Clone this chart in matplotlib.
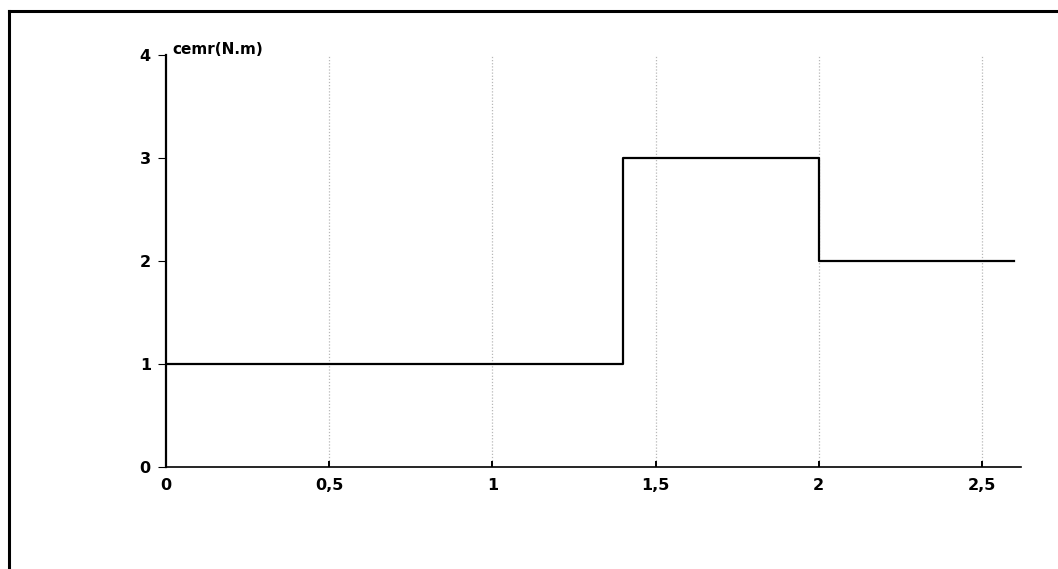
import numpy as np
import matplotlib
matplotlib.use('Agg')
import matplotlib.pyplot as plt
from matplotlib.lines import Line2D

# load torque steps (time in s, torque in N.m)
t_edges = [0, 1.4, 2.0, 2.6]
cemr = [1, 3, 2, 2]
xticks = [0, 0.5, 1, 1.5, 2, 2.5]
xtick_labels = ['0', '0,5', '1', '1,5', '2', '2,5']
yticks = [0, 1, 2, 3, 4]

fig = plt.figure(figsize=(10.58, 5.69), dpi=100)
ax = fig.add_axes([0.157, 0.179, 0.808, 0.724])

# outer frame (left + top edges of the scanned box)
fig.add_artist(Line2D([9/1058, 9/1058], [0, 1 - 11/569], color='black', lw=2.2))
fig.add_artist(Line2D([9/1058, 1], [1 - 11/569, 1 - 11/569], color='black', lw=2.2))

for x in xticks[1:]:
    ax.axvline(x, color='#b8b8b8', lw=0.9, ls=(0, (1, 1.5)), zorder=0)

ax.plot(t_edges, cemr, drawstyle='steps-post', color='black', lw=1.6)

ax.set_xlim(0, 2.62)
ax.set_ylim(0, 4)
ax.spines['top'].set_visible(False)
ax.spines['right'].set_visible(False)
ax.spines['left'].set_linewidth(1.6)
ax.spines['bottom'].set_linewidth(1.2)
ax.spines['bottom'].set_linestyle((0, (1.5, 1)))

ax.set_xticks(xticks)
ax.set_xticklabels(xtick_labels)
ax.set_yticks(yticks)
ax.tick_params(axis='x', direction='in', length=4, width=1.4, pad=8)
ax.tick_params(axis='y', direction='out', length=6, width=0.8, pad=5)
for lab in ax.get_xticklabels() + ax.get_yticklabels():
    lab.set_fontweight('bold')
    lab.set_fontsize(11.5)

ax.text(0.02, 3.98, 'cemr(N.m)', fontsize=11, fontweight='bold',
        ha='left', va='bottom', transform=ax.transData, clip_on=False)

fig.savefig('out.png', dpi=100)
